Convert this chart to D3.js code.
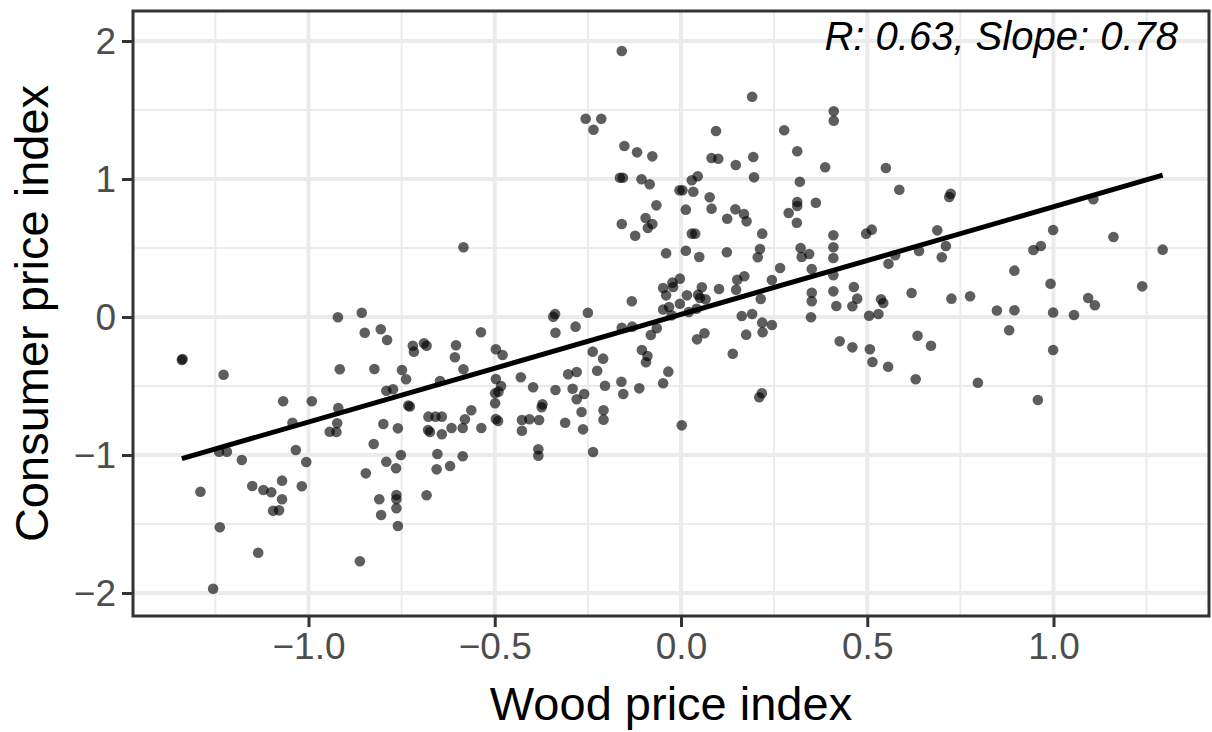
<!DOCTYPE html>
<html>
<head>
<meta charset="utf-8">
<script src="https://cdn.jsdelivr.net/npm/d3@7"></script>
<style>
  html, body { margin: 0; padding: 0; background: #fff; }
  svg { display: block; font-family: "Liberation Sans", Arial, Helvetica, sans-serif; }
</style>
</head>
<body>
<svg id="chart" width="1212" height="732"></svg>
<script>
// ---- data ----
const woodIndex = [
  // upper middle-left
  -0.159,-0.256,-0.214,-0.235,-0.152,-0.118,-0.077,-0.164,-0.156,-0.106,-0.084,-0.066,-0.095,-0.077,-0.089,-0.159,-0.123,-0.584,-0.040,-0.048,-0.040,-0.132,-0.048,
  // upper middle-right
  0.191,0.410,0.410,0.094,0.277,0.312,0.082,0.100,0.147,0.194,0.387,0.550,0.196,0.319,0.029,0.045,-0.004,0.004,0.033,0.586,
  0.077,0.082,0.013,0.146,0.169,0.176,0.124,0.312,0.312,0.289,0.362,0.311,0.029,0.038,0.218,0.409,0.497,0.512,0.013,0.049,
  0.123,0.212,0.206,0.321,0.324,0.344,0.409,0.409,0.351,0.266,0.244,0.409,0.557,0.575,0.639,0.619,0.464,0.473,0.460,0.537,
  0.543,0.351,0.351,0.409,0.417,0.151,0.170,0.148,0.102,0.214,0.056,0.046,0.066,0.016,-0.003,-0.023,-0.021,-0.003,-0.032,0.051,0.042,
  // upper right
  0.724,0.720,1.107,0.688,0.711,0.700,0.999,1.161,0.946,0.966,1.293,0.895,0.992,1.238,0.726,0.776,1.093,1.111,
  // lower right
  0.848,0.895,0.999,1.055,0.881,0.999,0.797,0.958,
  // lower middle-right
  0.163,0.191,0.218,0.244,0.219,0.175,0.043,0.063,0.139,0.349,0.505,0.530,0.426,0.460,0.507,0.514,0.556,0.635,0.671,0.630,
  0.217,0.210,0.002,0.021,-0.025,
  // lower middle-left
  -0.343,-0.338,-0.250,-0.283,-0.337,-0.537,-0.720,-0.690,-0.683,-0.717,-0.604,-0.607,-0.584,-0.497,-0.479,-0.749,-0.738,-0.647,-0.497,-0.483,
  -0.499,-0.490,-0.499,-0.430,-0.397,-0.337,-0.303,-0.280,-0.291,-0.280,-0.260,-0.267,-0.263,-0.237,-0.209,-0.225,-0.204,-0.208,-0.208,-0.236,
  -0.159,-0.131,-0.105,-0.090,-0.094,-0.081,-0.065,-0.048,-0.034,-0.160,-0.155,-0.112,-0.427,-0.407,-0.427,-0.381,-0.372,-0.374,-0.311,-0.383,
  -0.383,-0.678,-0.659,-0.642,-0.679,-0.674,-0.642,-0.616,-0.586,-0.580,-0.563,-0.536,-0.497,-0.491,-0.654,-0.656,-0.620,-0.586,-0.683,-0.752,
  -0.732,-0.728,
  // left
  -1.340,-1.338,-1.228,-0.921,-0.857,-0.849,-0.806,-0.789,-0.916,-0.823,-0.791,-0.773,-1.068,-0.991,-0.920,-1.043,-0.923,-0.943,-0.925,-0.799,
  -0.760,-0.825,-1.240,-1.219,-1.179,-1.034,-1.006,-0.791,-0.765,-0.846,-1.290,-1.151,-1.121,-1.100,-1.071,-1.018,-1.071,-1.095,-1.079,-0.810,
  -0.764,-0.764,-0.764,-0.805,-0.760,-1.238,-1.135,-0.862,-1.256
];
const consumerIndex = [
  // upper middle-left
  1.928,1.437,1.437,1.357,1.239,1.193,1.164,1.009,1.009,0.998,0.962,0.809,0.717,0.674,0.645,0.674,0.589,0.505,0.462,0.210,0.157,0.114,0.054,
  // upper middle-right
  1.596,1.491,1.422,1.348,1.353,1.201,1.152,1.147,1.101,1.159,1.085,1.080,1.012,0.980,0.991,1.020,0.918,0.918,0.908,0.922,
  0.868,0.785,0.778,0.780,0.746,0.693,0.712,0.833,0.804,0.754,0.828,0.683,0.604,0.604,0.604,0.592,0.604,0.633,0.480,0.435,
  0.469,0.493,0.433,0.500,0.435,0.457,0.505,0.428,0.348,0.355,0.268,0.302,0.386,0.447,0.478,0.174,0.217,0.133,0.078,0.128,
  0.101,0.176,0.114,0.186,0.080,0.270,0.295,0.198,0.203,0.130,0.215,0.162,0.128,0.157,0.278,0.249,0.217,0.096,0.072,0.138,0.060,
  // upper right
  0.893,0.870,0.853,0.628,0.514,0.433,0.630,0.580,0.486,0.514,0.488,0.336,0.241,0.222,0.133,0.150,0.138,0.085,
  // lower right
  0.047,0.049,0.033,0.014,-0.096,-0.239,-0.476,-0.601,
  // lower middle-right
  0.007,0.022,-0.041,-0.058,-0.111,-0.128,-0.162,-0.118,-0.266,-0.002,0.009,0.022,-0.176,-0.220,-0.234,-0.326,-0.360,-0.136,-0.208,-0.451,
  -0.553,-0.582,-0.785,0.036,0.012,
  // lower middle-left
  0.002,0.022,0.031,-0.070,-0.114,-0.111,-0.208,-0.191,-0.208,-0.251,-0.205,-0.292,-0.379,-0.234,-0.275,-0.384,-0.451,-0.464,-0.449,-0.500,
  -0.553,-0.541,-0.625,-0.437,-0.509,-0.529,-0.415,-0.399,-0.520,-0.596,-0.558,-0.688,-0.814,-0.251,-0.302,-0.389,-0.498,-0.676,-0.744,-0.978,
  -0.078,-0.070,-0.239,-0.283,-0.328,-0.130,-0.082,-0.480,-0.396,-0.469,-0.558,-0.517,-0.746,-0.741,-0.824,-0.746,-0.633,-0.654,-0.766,-0.959,
  -1.005,-0.722,-0.722,-0.722,-0.819,-0.833,-0.850,-0.804,-0.804,-0.741,-0.676,-0.804,-0.739,-0.754,-0.993,-1.104,-1.080,-1.009,-1.292,-1.000,
  -0.641,-0.649,
  // left
  -0.312,-0.304,-0.418,-0.002,0.031,-0.114,-0.089,-0.167,-0.379,-0.377,-0.534,-0.524,-0.611,-0.611,-0.659,-0.766,-0.770,-0.831,-0.833,-0.775,
  -0.807,-0.920,-0.976,-0.976,-1.036,-0.964,-1.051,-1.049,-1.096,-1.133,-1.266,-1.225,-1.254,-1.270,-1.186,-1.227,-1.321,-1.404,-1.401,-1.321,
  -1.290,-1.321,-1.386,-1.435,-1.514,-1.524,-1.708,-1.770,-1.969
];
const xTicks = [-1.0, -0.5, 0.0, 0.5, 1.0];
const xMinorTicks = [-1.25, -0.75, -0.25, 0.25, 0.75, 1.25];
const yTicks = [-2, -1, 0, 1, 2];
const yMinorTicks = [-1.5, -0.5, 0.5, 1.5];
const fitSlope = 0.78;
const fitIntercept = 0.019;
const annotationText = "R: 0.63, Slope: 0.78";
const xTitle = "Wood price index";
const yTitle = "Consumer price index";

// ---- layout ----
const panel = { left: 133, right: 1209, top: 11, bottom: 616 };
const svg = d3.select("#chart");
svg.append("rect").attr("width", 1212).attr("height", 732).attr("fill", "#fff");

const x = d3.scaleLinear().domain([-1.4711, 1.4174]).range([panel.left, panel.right]);
const y = d3.scaleLinear().domain([-2.1667, 2.2174]).range([panel.bottom, panel.top]);

const points = woodIndex.map((v, i) => ({ x: v, y: consumerIndex[i] }));

// grid
const grid = svg.append("g");
grid.selectAll("line.xminor").data(xMinorTicks).join("line")
  .attr("x1", d => x(d)).attr("x2", d => x(d)).attr("y1", panel.top).attr("y2", panel.bottom)
  .attr("stroke", "#ebebeb").attr("stroke-width", 2);
grid.selectAll("line.yminor").data(yMinorTicks).join("line")
  .attr("y1", d => y(d)).attr("y2", d => y(d)).attr("x1", panel.left).attr("x2", panel.right)
  .attr("stroke", "#ebebeb").attr("stroke-width", 2);
grid.selectAll("line.xmajor").data(xTicks).join("line")
  .attr("x1", d => x(d)).attr("x2", d => x(d)).attr("y1", panel.top).attr("y2", panel.bottom)
  .attr("stroke", "#ebebeb").attr("stroke-width", 4);
grid.selectAll("line.ymajor").data(yTicks).join("line")
  .attr("y1", d => y(d)).attr("y2", d => y(d)).attr("x1", panel.left).attr("x2", panel.right)
  .attr("stroke", "#ebebeb").attr("stroke-width", 4);

// points
svg.append("g").selectAll("circle").data(points).join("circle")
  .attr("cx", d => x(d.x)).attr("cy", d => y(d.y)).attr("r", 5.3)
  .attr("fill", "#000").attr("fill-opacity", 0.63);

// regression line
const [xmin, xmax] = d3.extent(woodIndex);
const fit = [xmin, xmax].map(v => ({ x: v, y: fitIntercept + fitSlope * v }));
svg.append("path")
  .attr("d", d3.line().x(d => x(d.x)).y(d => y(d.y))(fit))
  .attr("fill", "none").attr("stroke", "#000").attr("stroke-width", 5);

// annotation
svg.append("text")
  .attr("x", 1178).attr("y", 50)
  .attr("text-anchor", "end")
  .attr("font-size", 40).attr("font-style", "italic").attr("fill", "#000")
  .text(annotationText);

// panel border
svg.append("rect")
  .attr("x", panel.left).attr("y", panel.top)
  .attr("width", panel.right - panel.left).attr("height", panel.bottom - panel.top)
  .attr("fill", "none").attr("stroke", "#333333").attr("stroke-width", 3);

// axes
const xAxis = d3.axisBottom(x).tickValues(xTicks).tickFormat(d3.format(".1f")).tickSize(11).tickPadding(6);
const gx = svg.append("g").attr("transform", `translate(0,${panel.bottom})`).call(xAxis);
gx.select(".domain").remove();
gx.selectAll(".tick line").attr("stroke", "#333333").attr("stroke-width", 3);
gx.selectAll(".tick text").attr("fill", "#4d4d4d").attr("font-size", 37)
  .attr("font-family", "'Liberation Sans', Arial, sans-serif").attr("dy", "0.71em");

const yAxis = d3.axisLeft(y).tickValues(yTicks).tickFormat(d3.format("d")).tickSize(11).tickPadding(6);
const gy = svg.append("g").attr("transform", `translate(${panel.left},0)`).call(yAxis);
gy.select(".domain").remove();
gy.selectAll(".tick line").attr("stroke", "#333333").attr("stroke-width", 3);
gy.selectAll(".tick text").attr("fill", "#4d4d4d").attr("font-size", 37)
  .attr("font-family", "'Liberation Sans', Arial, sans-serif").attr("dy", "0.35em");

// titles
svg.append("text")
  .attr("x", (panel.left + panel.right) / 2).attr("y", 720)
  .attr("text-anchor", "middle").attr("font-size", 47).attr("fill", "#000")
  .text(xTitle);
svg.append("text")
  .attr("transform", `translate(48,${(panel.top + panel.bottom) / 2}) rotate(-90)`)
  .attr("text-anchor", "middle").attr("font-size", 47).attr("fill", "#000")
  .text(yTitle);
</script>
</body>
</html>
